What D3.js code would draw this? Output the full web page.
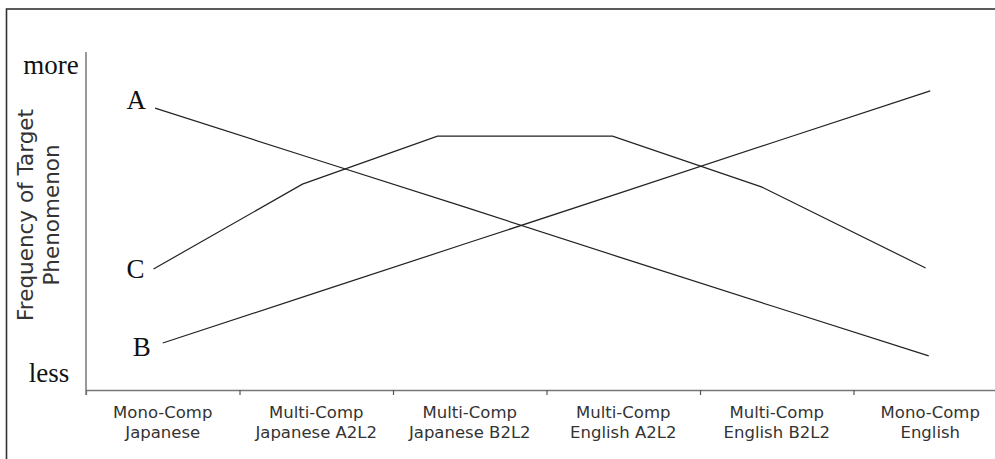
<!DOCTYPE html>
<html>
<head>
<meta charset="utf-8">
<script src="https://cdn.jsdelivr.net/npm/d3@7/dist/d3.min.js"></script>
<style>
  html, body { margin: 0; padding: 0; background: #fff; overflow: hidden; }
  svg { display: block; }
</style>
</head>
<body>
<svg id="chart" width="995" height="459"></svg>
<script>
// ---- data ----
const categories = [
  ["Mono-Comp", "Japanese"],
  ["Multi-Comp", "Japanese A2L2"],
  ["Multi-Comp", "Japanese B2L2"],
  ["Multi-Comp", "English A2L2"],
  ["Multi-Comp", "English B2L2"],
  ["Mono-Comp", "English"]
];
const seriesNames = ["A", "B", "C"];
// position along the category axis (category index units, as drawn)
const posA = [-0.05, 0.96, 1.97, 2.97, 3.98, 4.99];
const posB = [0, 1, 2, 3, 4, 5];
const posC = [-0.06, 0.91, 1.79, 2.93, 3.9, 4.97];
// frequency (relative, 0 = less, 100 = more)
const valuesA = [83.4, 68.7, 54.1, 39.4, 24.7, 10.1];
const valuesB = [13.9, 28.8, 43.7, 58.6, 73.6, 88.5];
const valuesC = [35.8, 60.9, 75.1, 75.1, 60.1, 36.1];
const yTickLabels = ["less", "more"];
const yTitle = ["Frequency of Target", "Phenomenon"];

// ---- layout ----
const svg = d3.select("#chart");
const mLeft = 86, mTop = 52, mBottom = 390, band = 153.5;

const x = d3.scaleLinear().domain([0, categories.length]).range([mLeft, mLeft + band * categories.length]);
const y = d3.scaleLinear().domain([0, 100]).range([mBottom, mTop]);

// outer frame
svg.append("rect")
  .attr("x", 6.5).attr("y", 9)
  .attr("width", 1010).attr("height", 470)
  .attr("fill", "none").attr("stroke", "#333").attr("stroke-width", 1.6);

// x axis (ticks at category boundaries)
const xAxis = d3.axisBottom(x)
  .tickValues(d3.range(categories.length))
  .tickFormat("")
  .tickSize(5)
  .tickSizeOuter(0);
const gx = svg.append("g").attr("transform", `translate(0,${mBottom})`).call(xAxis);
gx.select(".domain").attr("stroke", "#777").attr("stroke-width", 1.5);
gx.selectAll(".tick line").attr("stroke", "#555").attr("stroke-width", 1.2);

// y axis line
svg.append("line")
  .attr("x1", mLeft).attr("x2", mLeft)
  .attr("y1", y(100)).attr("y2", y(0) + 5)
  .attr("stroke", "#777").attr("stroke-width", 1.5);

// category labels
const lab = svg.append("g")
  .attr("font-family", "'DejaVu Sans', Verdana, sans-serif")
  .attr("font-size", 16.5)
  .attr("fill", "#333")
  .attr("text-anchor", "middle");
categories.forEach((c, i) => {
  c.forEach((ln, j) => {
    lab.append("text")
      .attr("x", x(i + 0.5))
      .attr("y", mBottom + 28 + j * 20)
      .text(ln);
  });
});

// y end labels
svg.append("text")
  .attr("x", 51).attr("y", y(100) + 22)
  .attr("text-anchor", "middle")
  .attr("font-family", "'Liberation Serif', 'Times New Roman', serif")
  .attr("font-size", 27).attr("fill", "#111")
  .text(yTickLabels[1]);
svg.append("text")
  .attr("x", 49).attr("y", y(0) - 8)
  .attr("text-anchor", "middle")
  .attr("font-family", "'Liberation Serif', 'Times New Roman', serif")
  .attr("font-size", 27).attr("fill", "#111")
  .text(yTickLabels[0]);

// y title
const yt = svg.append("text")
  .attr("transform", "translate(0,215) rotate(-90)")
  .attr("text-anchor", "middle")
  .attr("font-family", "'DejaVu Sans', Verdana, sans-serif")
  .attr("font-size", 21.5)
  .attr("fill", "#333");
yTitle.forEach((t, j) => {
  yt.append("tspan").attr("x", 0).attr("y", 33 + j * 26).text(t);
});

// series lines
const series = [
  { name: seriesNames[0], pos: posA, vals: valuesA, dx: -9, dy: 1 },
  { name: seriesNames[1], pos: posB, vals: valuesB, dx: -12, dy: 13 },
  { name: seriesNames[2], pos: posC, vals: valuesC, dx: -9, dy: 9 }
];
const lineGen = d3.line().x(d => x(d[0] + 0.5)).y(d => y(d[1]));
series.forEach(s => {
  const pts = s.pos.map((p, i) => [p, s.vals[i]]);
  svg.append("path")
    .attr("d", lineGen(pts))
    .attr("fill", "none")
    .attr("stroke", "#222")
    .attr("stroke-width", 1.2);
  svg.append("text")
    .attr("x", x(pts[0][0] + 0.5) + s.dx)
    .attr("y", y(pts[0][1]) + s.dy)
    .attr("text-anchor", "end")
    .attr("font-family", "'Liberation Serif', 'Times New Roman', serif")
    .attr("font-size", 27)
    .attr("fill", "#111")
    .text(s.name);
});
</script>
</body>
</html>
